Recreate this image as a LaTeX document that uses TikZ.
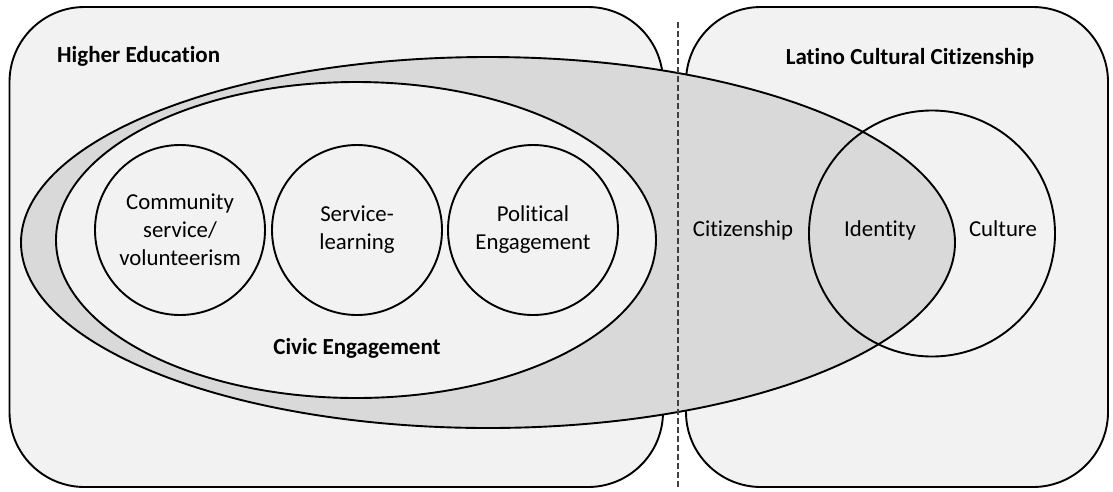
\documentclass[tikz,border=0pt]{standalone}
\usepackage{fontspec}
\setmainfont{Carlito}[Ligatures={NoCommon,NoContextual}]
\usetikzlibrary{shapes.geometric}
\definecolor{panelfill}{HTML}{F2F2F2}
\definecolor{bandfill}{HTML}{D9D9D9}
\definecolor{dividergray}{HTML}{404040}
\newcommand\diagtext{\fontsize{22.8}{28}\selectfont}
\newcommand\diaghead{\fontsize{23}{28}\selectfont\bfseries}
\begin{document}
\begin{tikzpicture}[x=1pt,y=-1pt,
  outline/.style={draw=black, line width=1.9pt},
  panel/.style={outline, fill=panelfill, rounded corners=75pt},
  oval/.style={outline, ellipse, inner sep=0pt},
  ring/.style={outline, circle, fill=panelfill, minimum size=170pt,
               inner sep=0pt, align=center, font=\diagtext},
  plain/.style={font=\diagtext, inner sep=0pt},
  heading/.style={font=\diaghead, inner sep=0pt},
  divider/.style={draw=dividergray, line width=1.1pt, dash pattern=on 6pt off 3pt}]

\useasboundingbox (0,0) rectangle (1113,491);
\fill[white] (0,0) rectangle (1113,491);

% the two domains
\draw[panel] (9.5,7) rectangle (663,487);
\draw[panel] (686,7) rectangle (1108,487);

% citizenship band reaching across both domains
\node[oval, fill=bandfill, minimum width=934pt, minimum height=371pt] (band) at (488,242.5) {};
% civic engagement
\node[oval, fill=panelfill, minimum width=600pt, minimum height=316pt] (civic) at (356,240) {};

% forms of civic engagement
\node[ring] (community) at (180,230) {Community\\service/\\volunteerism};
\node[ring] (service) at (357,230) {Service-\\learning};
\node[ring] (political) at (533,230) {Political\\Engagement};

% culture circle overlapping the band
\node[outline, circle, minimum size=246pt, inner sep=0pt] (culture) at (932,233.5) {};

% divider between the domains
\draw[divider] (678,22) -- (678,487);

% labels
\node[heading, anchor=base west] (hetitle) at (57,62) {Higher Education};
\node[heading, anchor=base] (lcctitle) at (910,64) {Latino Cultural Citizenship};
\node[heading] (civictitle) at (357,348) {Civic Engagement};
\node[plain] (citizenship) at (743,230) {Citizenship};
\node[plain] (identity) at (880,230) {Identity};
\node[plain] (culturetext) at (1003,229) {Culture};

\end{tikzpicture}
\end{document}
